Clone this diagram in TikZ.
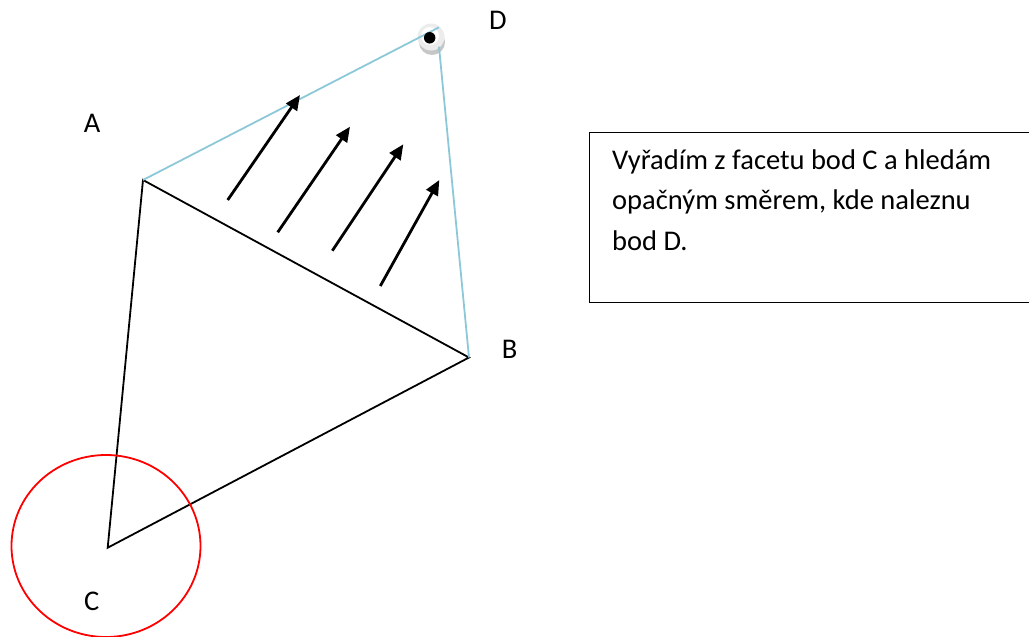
\documentclass[tikz,border=0pt]{standalone}
\usepackage{fontspec}
\setmainfont{Carlito}
\usetikzlibrary{arrows.meta}
\definecolor{facetblue}{RGB}{140,200,216}

\begin{document}
\begin{tikzpicture}[x=1pt, y=-1pt,
  every node/.style={font=\fontsize{28.5}{40.5}\selectfont, inner sep=0pt},
  edge/.style={line width=1.8pt},
  push/.style={line width=2.8pt, -{Triangle[length=15pt,width=13pt]}}]
  \clip (0,0) rectangle (1029,637);

  \coordinate (A) at (143,180);
  \coordinate (B) at (469,357.5);
  \coordinate (C) at (107.7,547.7);
  \coordinate (Dtop) at (439,27.3);
  \coordinate (Dbot) at (439,46.7);

  % facet with C to be removed
  \draw[edge] (A) -- (B) -- (C) -- cycle;
  \draw[edge, red] (106,546) ellipse [x radius=94.5, y radius=91];

  % found point D
  \fill[gray!45] (432,42) circle (13);
  \fill[gray!15] (431,37) circle (13.5);
  \fill[white] (430,36) circle (9);
  \draw[edge, facetblue] (A) -- (Dtop);
  \draw[edge, facetblue] (Dbot) -- (B);
  \node[circle, fill=black, minimum size=11.5pt] (D) at (429.7,37.8) {};

  % search direction
  \foreach \sx/\sy/\ex/\ey in {227.7/200/300/95, 277.7/232.3/350/126.7,
                              332.3/250.7/403.3/144.3, 380.3/286/439.3/180}
    \draw[push] (\sx,\sy) -- (\ex,\ey);

  \node[anchor=base] (labA) at (92,132.7) {A};
  \node[anchor=base] (labB) at (509.7,358.3) {B};
  \node[anchor=base] (labC) at (91.7,610.7) {C};
  \node[anchor=base] (labD) at (498,29.3) {D};

  \node[draw, line width=1.4pt, anchor=north west, minimum width=451pt,
        minimum height=170pt] (box) at (589,132) {};
  \node[anchor=north west, align=left] (note) at (612,149.5)
    {Vyřadím z facetu bod C a hledám\\opačným směrem, kde naleznu\\bod D.};
\end{tikzpicture}
\end{document}
